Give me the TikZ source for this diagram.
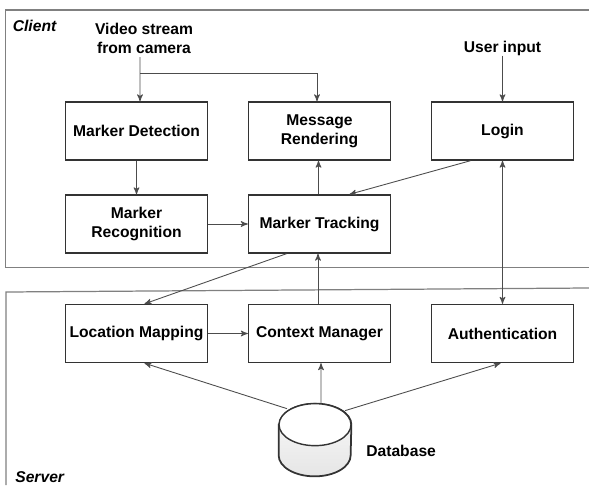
\documentclass[tikz,border=0pt]{standalone}
\usepackage{fontspec}
\setmainfont{Liberation Sans}
\usepackage{xcolor}
\usetikzlibrary{positioning, arrows}
\definecolor{boxline}{gray}{0.2}
\definecolor{frameline}{gray}{0.5}
\definecolor{arrowline}{gray}{0.3}
\tikzset{
node distance=3.66cm, % horizontal gap between box centres
>=stealth', % small bold arrow heads
box/.style={draw=boxline, line width=0.8pt, minimum width=2.84cm, minimum height=1.16cm, inner sep=0pt, align=center, font=\fontsize{8.9}{10.8}\selectfont\bfseries}, % every block
label/.style={inner sep=0pt, align=center, font=\fontsize{8.9}{10.8}\selectfont\bfseries}, % free text
tier/.style={inner sep=0pt, font=\fontsize{8.9}{10.8}\selectfont\bfseries\itshape}, % Client, Server
flow/.style={->, draw=arrowline, line width=0.5pt}, % connectors
frame/.style={draw=frameline, line width=0.7pt}, % open tier frames
dbspace/.style={minimum width=1.44cm, minimum height=1.44cm, inner sep=0pt}, % room for the drum
}

\begin{document}
\begin{tikzpicture}
    \useasboundingbox (0,0) rectangle (11.78,-9.7);

    % tier frames
    \draw[frame] (11.78,-0.2) -- (0.11,-0.2) -- (0.11,-5.35) -- (11.78,-5.35);
    \draw[frame] (11.78,-5.76) -- (0.12,-5.84) -- (0.12,-9.7);
    \node[tier, anchor=west] (client) at (0.25,-0.51) {Client};
    \node[tier, anchor=west] (server) at (0.3,-9.54) {Server};

    % client
    \node[box] (detect) at (2.73,-2.62) {Marker Detection};
    \node[box, right of=detect] (render) {Message\\Rendering};
    \node[box, right of=render] (login) {Login};
    \node[box, below of=detect, node distance=1.86cm] (recog) {Marker\\Recognition};
    \node[box, right of=recog] (track) {Marker Tracking};

    % server
    \node[box, below of=recog, node distance=2.19cm] (locmap) {Location Mapping};
    \node[box, right of=locmap] (context) {Context Manager};
    \node[box, right of=context] (auth) {Authentication};

    % database drum
    \node[dbspace] (db) at (6.3,-8.8) {};
    \draw[draw=boxline, line width=1pt, top color=gray!4, bottom color=gray!20] ([yshift=-0.42cm]db.north west) -- ([yshift=0.42cm]db.south west) arc (180:360:0.72cm and 0.42cm) -- ([yshift=-0.42cm]db.north east) arc (0:180:0.72cm and 0.42cm) -- cycle;
    \draw[draw=boxline, line width=0.8pt, fill=white] ([yshift=-0.42cm]db.north) ellipse (0.72cm and 0.42cm);
    \node[label, anchor=west] (dblabel) at (7.32,-9.02) {Database};

    % inputs
    \node[label] (video) at (2.88,-0.77) {Video stream\\from camera};
    \node[label, above of=login, node distance=1.66cm] (input) {User input};
    \coordinate (fork) at (2.8,-1.47);
    \coordinate (rendertop) at ([xshift=-0.05cm]render.north);

    \draw[flow] ([xshift=-0.08cm,yshift=-0.06cm]video.south) -- (fork) -- ([xshift=0.07cm]detect.north);
    \draw[flow] (fork) -| (rendertop);
    \draw[flow] (input) -- (login);
    \draw[flow] (detect) -- (recog);
    \draw[flow] (recog) -- (track);
    \draw[flow] ([xshift=-0.02cm]track.north) -- ([xshift=-0.02cm]render.south);
    \draw[flow] ([xshift=-0.64cm]login.south) -- ([xshift=0.6cm]track.north);
    \draw[flow] ([xshift=-0.66cm]track.south) -- ([xshift=0.16cm]locmap.north);
    \draw[flow] (locmap) -- (context);
    \draw[flow] ([xshift=-0.03cm]context.north) -- ([xshift=-0.03cm]track.south);
    \draw[flow, <->] (login) -- (auth);
    \draw[flow] ([xshift=-0.56cm,yshift=-0.1cm]db.north) -- ([xshift=0.16cm]locmap.south);
    \draw[flow] ([xshift=0.12cm]db.north) -- ([xshift=0.03cm]context.south);
    \draw[flow] ([xshift=0.6cm,yshift=-0.14cm]db.north) -- ([xshift=-0.04cm]auth.south);
\end{tikzpicture}
\end{document}
